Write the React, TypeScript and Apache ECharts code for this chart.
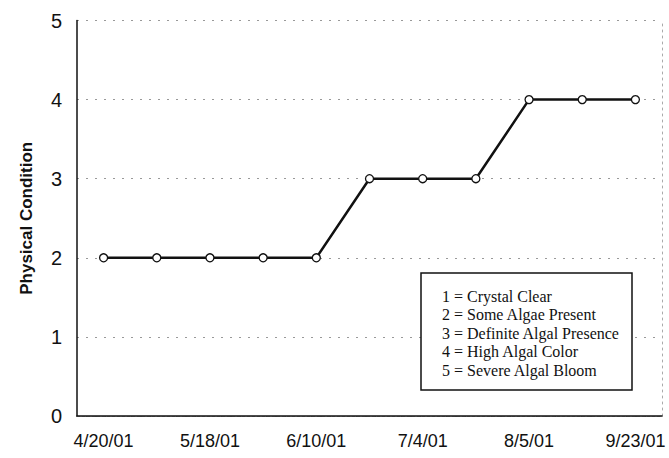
import React, { useEffect, useRef } from "react";
import * as echarts from "echarts";

const categories = [
  "4/20/01", "5/4/01", "5/18/01", "5/30/01", "6/10/01", "6/22/01",
  "7/4/01", "7/19/01", "8/5/01", "8/28/01", "9/23/01",
];
const conditionValues = [2, 2, 2, 2, 2, 3, 3, 3, 4, 4, 4];
const legendLines = [
  "1 = Crystal Clear",
  "2 = Some Algae Present",
  "3 = Definite Algal Presence",
  "4 = High Algal Color",
  "5 = Severe Algal Bloom",
];
const yAxisName = "Physical Condition";

export default function App() {
  const ref = useRef<HTMLDivElement>(null);
  useEffect(() => {
    if (!ref.current) return;
    const chart = echarts.init(ref.current, undefined, { renderer: "svg" });
    const boxX = 421, boxY = 273, boxW = 211, boxH = 117;
    chart.setOption({
      animation: false,
      backgroundColor: "#ffffff",
      grid: { left: 77, right: 7, top: 20.5, bottom: 42, containLabel: false },
      xAxis: [
        {
          type: "category",
          data: categories,
          boundaryGap: true,
          axisLine: { show: true, lineStyle: { color: "#111", width: 1.5 } },
          axisTick: { show: false },
          axisLabel: {
            interval: 1,
            color: "#111",
            fontFamily: "Liberation Sans, Arial, sans-serif",
            fontSize: 18,
            margin: 16,
          },
          splitLine: { show: false },
        },
        {
          type: "category",
          data: categories,
          position: "top",
          axisLine: { show: true, lineStyle: { color: "#333", width: 1, type: [3, 2] } },
          axisTick: { show: false },
          axisLabel: { show: false },
        },
      ],
      yAxis: [
        {
          type: "value",
          min: 0,
          max: 5,
          interval: 1,
          name: yAxisName,
          nameLocation: "middle",
          nameGap: 42,
          nameTextStyle: {
            fontFamily: "Liberation Sans, Arial, sans-serif",
            fontWeight: "bold",
            fontSize: 17,
            color: "#111",
          },
          axisLine: { show: true, lineStyle: { color: "#111", width: 1.5 } },
          axisTick: { show: false },
          axisLabel: {
            color: "#111",
            fontFamily: "Liberation Sans, Arial, sans-serif",
            fontSize: 20,
            margin: 15,
          },
          splitLine: {
            show: true,
            lineStyle: { color: "#999", width: 1, type: [2, 7] },
          },
        },
        {
          type: "value",
          min: 0,
          max: 5,
          interval: 1,
          position: "right",
          axisLine: { show: true, lineStyle: { color: "#aaa", width: 1, type: [2, 4] } },
          axisTick: { show: false },
          axisLabel: { show: false },
          splitLine: { show: false },
        },
      ],
      series: [
        {
          type: "line",
          data: conditionValues,
          symbol: "circle",
          symbolSize: 8,
          lineStyle: { color: "#111", width: 2.5 },
          itemStyle: { color: "#ffffff", borderColor: "#111", borderWidth: 1.3 },
          z: 3,
        },
      ],
      graphic: [
        {
          type: "rect",
          shape: { x: boxX, y: boxY, width: boxW, height: boxH },
          style: { fill: "#ffffff", stroke: "#111", lineWidth: 1.5 },
          z: 10,
        },
        ...legendLines.map((t, i) => ({
          type: "text",
          x: 442,
          y: 296 + i * 18.5,
          style: {
            text: t,
            fill: "#111",
            font: "16px 'Liberation Serif', 'Times New Roman', serif",
            verticalAlign: "middle",
          },
          z: 11,
        })),
      ],
    });
    return () => chart.dispose();
  }, []);
  return (
    <div
      ref={ref}
      style={{ position: "fixed", left: 0, top: 0, width: 669, height: 458 }}
    />
  );
}
